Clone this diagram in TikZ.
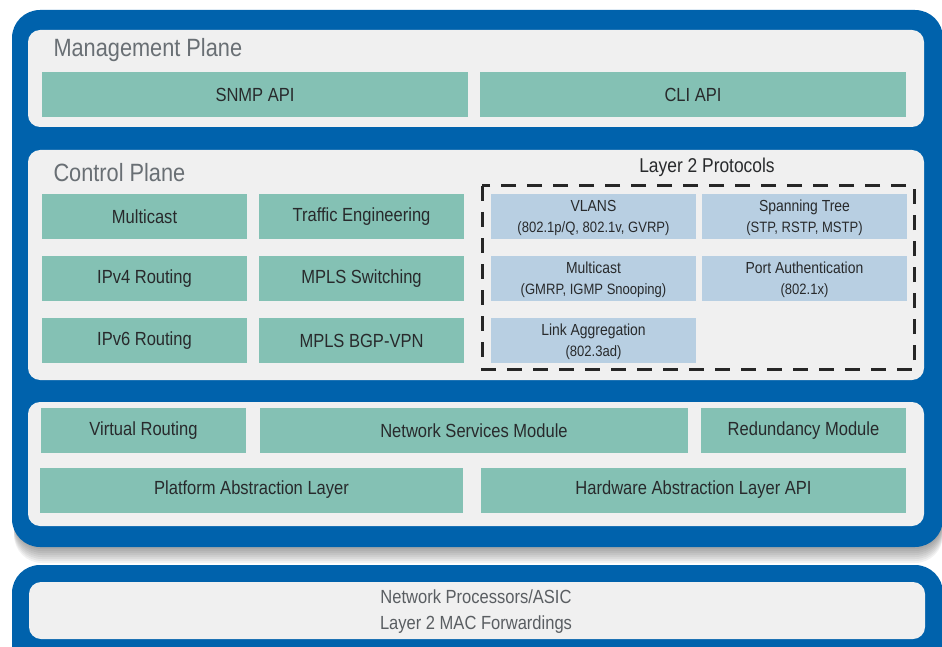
\documentclass[tikz,border=0pt]{standalone}
\usepackage{fontspec}
\setmainfont[FakeStretch=0.87]{Liberation Sans}
\usepackage{tikz}
\usetikzlibrary{positioning}
\definecolor{FrameBlue}{RGB}{0,98,172}
\definecolor{PanelGray}{RGB}{240,240,240}
\definecolor{BoxGreen}{RGB}{132,193,180}
\definecolor{BoxBlue}{RGB}{184,207,226}
\definecolor{TextDark}{RGB}{40,42,44}
\definecolor{TitleGray}{RGB}{105,111,116}
\definecolor{HwGray}{RGB}{90,94,98}
\tikzset{
  panel/.style={fill=PanelGray,rounded corners=12pt},
  frame/.style={fill=FrameBlue,rounded corners=28pt},
  gbox/.style={fill=BoxGreen,inner sep=0pt,minimum height=45pt,text=TextDark,
    font=\fontsize{19}{22}\selectfont},
  lbox/.style={fill=BoxBlue,inner sep=0pt,minimum height=45pt,minimum width=205pt,
    text=TextDark,align=center,text depth=0pt,font=\fontsize{16}{21}\selectfont},
  ptitle/.style={anchor=west,text=TitleGray,font=\fontsize{25}{27}\selectfont},
}
\tikzset{dashbox/.style={draw=black!85,line width=3pt,dash pattern=on 15pt off 11pt}}
\newcommand{\subline}[1]{{\fontsize{15}{21}\selectfont #1}}

\begin{document}
\begin{tikzpicture}[x=1pt,y=-1pt]
\useasboundingbox (0,0) rectangle (942,647);
\clip (0,0) rectangle (942,647);
% shadow under the main frame
\foreach \s in {2,4,...,16}
  \fill[black,opacity=0.05,rounded corners=28pt] (14,14+\s) rectangle (943,547+\s);
\fill[frame] (12,10) rectangle (943,547);
\fill[frame] (12,565) rectangle (943,690);
% panels
\fill[panel] (28,30) rectangle (924,127);
\fill[panel] (28,150) rectangle (924,380);
\fill[panel] (28,402) rectangle (924,526);
\fill[panel] (29,582) rectangle (925,639);
% management plane
\node[ptitle] (mgmt) at (50,50) {Management Plane};
\node[gbox,minimum width=426pt] (snmp) at (255,94.5) {SNMP API};
\node[gbox,minimum width=426pt] (cli) at (693,94.5) {CLI API};
% control plane
\node[ptitle] (ctrl) at (50,173) {Control Plane};
\node[gbox,minimum width=205pt] (mcast) at (144.5,216.5) {Multicast};
\node[gbox,minimum width=205pt] (te) at (361.5,216.5) {Traffic Engineering};
\node[gbox,minimum width=205pt] (ipv4) at (144.5,278.5) {IPv4 Routing};
\node[gbox,minimum width=205pt] (mpls) at (361.5,278.5) {MPLS Switching};
\node[gbox,minimum width=205pt] (ipv6) at (144.5,340.5) {IPv6 Routing};
\node[gbox,minimum width=205pt] (bgp) at (361.5,340.5) {MPLS BGP-VPN};
% layer 2 protocols
\node[text=TextDark,font=\fontsize{20}{22}\selectfont] (l2) at (707,167) {Layer 2 Protocols};
\draw[dashbox] (482,186) rectangle (914,369);
\node[lbox] (vlan) at (593.5,216.5) {VLANS\\\subline{(802.1p/Q, 802.1v, GVRP)}};
\node[lbox] (stp) at (804.5,216.5) {Spanning Tree\\\subline{(STP, RSTP, MSTP)}};
\node[lbox] (l2mc) at (593.5,278.5) {Multicast\\\subline{(GMRP, IGMP Snooping)}};
\node[lbox] (auth) at (804.5,278.5) {Port Authentication\\\subline{(802.1x)}};
\node[lbox] (lag) at (593.5,340.5) {Link Aggregation\\\subline{(802.3ad)}};
% services and abstraction
\node[gbox,minimum width=205pt] (vr) at (143.5,430.5) {Virtual Routing};
\node[gbox,minimum width=428pt] (nsm) at (474,430.5) {Network Services Module};
\node[gbox,minimum width=205pt] (red) at (803.5,430.5) {Redundancy Module};
\node[gbox,minimum width=423pt] (pal) at (251.5,490) {Platform Abstraction Layer};
\node[gbox,minimum width=425pt] (hal) at (693.5,490) {Hardware Abstraction Layer API};
% hardware
\node[text=HwGray,align=center,font=\fontsize{19}{26}\selectfont] (asic) at (476,612)
  {Network Processors/ASIC\\Layer 2 MAC Forwardings};
\end{tikzpicture}
\end{document}
